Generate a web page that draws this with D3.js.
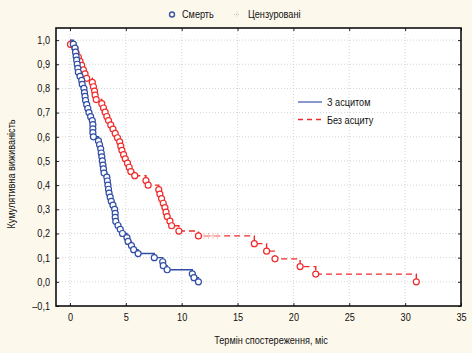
<!DOCTYPE html>
<html>
<head>
<meta charset="utf-8">
<script src="https://cdn.jsdelivr.net/npm/d3@7"></script>
<style>
  body { margin: 0; background: #fdf8ec; }
  svg { display: block; font-family: "Liberation Sans Narrow", "Arial Narrow", "Liberation Sans", sans-serif; }
</style>
</head>
<body>
<svg id="chart" width="472" height="353"></svg>
<script>
// З асцитом: час (міс) і кумулятивна виживаність після кожної смерті
var blueTime = [0.3, 0.45, 0.5, 0.55, 0.6, 0.65, 0.7, 0.75, 0.9, 1.05,
                1.1, 1.25, 1.3, 1.35, 1.4, 1.5, 1.6, 1.7, 1.85, 2.0,
                2.05, 2.05, 2.05, 2.1, 2.55, 2.65, 2.75, 2.8, 2.85, 2.9,
                2.95, 3.0, 3.05, 3.3, 3.35, 3.4, 3.45, 3.5, 3.6, 3.7,
                3.85, 4.0, 4.05, 4.05, 4.1, 4.3, 4.5, 4.7, 5.1, 5.2,
                5.5, 5.7, 6.1, 7.55, 8.3, 8.35, 8.7, 10.95, 11.1, 11.5];
var blueSurv = [0.983, 0.967, 0.950, 0.933, 0.917, 0.900, 0.883, 0.867, 0.850, 0.833,
                0.817, 0.800, 0.783, 0.767, 0.750, 0.733, 0.717, 0.700, 0.683, 0.667,
                0.650, 0.633, 0.617, 0.600, 0.583, 0.567, 0.550, 0.533, 0.517, 0.500,
                0.483, 0.467, 0.450, 0.433, 0.417, 0.400, 0.383, 0.367, 0.350, 0.333,
                0.317, 0.300, 0.283, 0.267, 0.250, 0.233, 0.217, 0.200, 0.183, 0.167,
                0.150, 0.133, 0.117, 0.100, 0.083, 0.067, 0.050, 0.033, 0.017, 0.000];

// Без асциту
var redTime = [0.05, 0.45, 0.55, 0.75, 0.9, 1.05, 1.2, 1.35, 1.5, 2.0,
               2.1, 2.2, 2.25, 2.35, 2.85, 3.0, 3.15, 3.3, 3.45, 3.65,
               3.85, 4.05, 4.25, 4.45, 4.55, 4.65, 4.8, 4.95, 5.15, 5.3,
               5.45, 5.8, 6.8, 7.0, 7.95, 8.05, 8.2, 8.35, 8.5, 8.6,
               8.7, 8.95, 9.1, 9.75, 11.5, 16.5, 17.6, 18.35, 20.6, 22.0, 31.0];
var redSurv = [0.982, 0.965, 0.947, 0.930, 0.912, 0.895, 0.877, 0.860, 0.842, 0.825,
               0.807, 0.789, 0.772, 0.754, 0.737, 0.719, 0.702, 0.684, 0.667, 0.649,
               0.632, 0.614, 0.596, 0.579, 0.561, 0.544, 0.526, 0.509, 0.491, 0.474,
               0.456, 0.439, 0.419, 0.400, 0.381, 0.363, 0.344, 0.325, 0.307, 0.288,
               0.270, 0.251, 0.232, 0.210, 0.190, 0.158, 0.127, 0.095, 0.063, 0.032, 0.000];

// цензуровані спостереження
var redCensTime = [12.0, 12.4, 12.8, 13.2];
var redCensSurv = [0.190, 0.190, 0.190, 0.190];

var xTicks = [0, 5, 10, 15, 20, 25, 30, 35];
var yTicks = [-0.1, 0, 0.1, 0.2, 0.3, 0.4, 0.5, 0.6, 0.7, 0.8, 0.9, 1.0];

var seriesNames = ['З асцитом', 'Без асциту'];
var markerNames = ['Смерть', 'Цензуровані'];

(function() {
  var pL = 56, pR = 461, pT = 28, pB = 306;
  var blue = '#2f4da3', red = '#f02a2a';
  var fs = 10.5;

  var svg = d3.select('#chart');

  var x = d3.scaleLinear().domain([-1.25, 35]).range([pL, pR]);
  var y = d3.scaleLinear().domain([-0.1, 1.05]).range([pB, pT]);

  // поле графіка
  svg.append('rect')
    .attr('x', pL).attr('y', pT)
    .attr('width', pR - pL).attr('height', pB - pT)
    .attr('fill', '#ffffff');

  // сітка
  svg.append('g')
    .selectAll('line')
    .data(xTicks.slice(0, -1))
    .enter().append('line')
    .attr('x1', function(d) { return x(d); }).attr('x2', function(d) { return x(d); })
    .attr('y1', pT).attr('y2', pB)
    .attr('stroke', '#d4d4d4').attr('stroke-dasharray', '1,2');
  svg.append('g')
    .selectAll('line')
    .data(yTicks.slice(1))
    .enter().append('line')
    .attr('x1', pL).attr('x2', pR)
    .attr('y1', function(d) { return y(d); }).attr('y2', function(d) { return y(d); })
    .attr('stroke', '#d4d4d4').attr('stroke-dasharray', '1,2');

  var fmt = function(d) { return d3.format('.1f')(d).replace('.', ',').replace('−', '–'); };

  // осі, мітки всередину
  var xAxis = svg.append('g')
    .attr('transform', 'translate(0,' + pB + ')')
    .call(d3.axisBottom(x).tickValues(xTicks).tickSizeInner(-3).tickSizeOuter(0).tickPadding(8));
  var yAxis = svg.append('g')
    .attr('transform', 'translate(' + pL + ',0)')
    .call(d3.axisLeft(y).tickValues(yTicks).tickFormat(fmt).tickSizeInner(-3).tickSizeOuter(0).tickPadding(6));
  svg.append('g')
    .attr('transform', 'translate(0,' + pT + ')')
    .call(d3.axisTop(x).tickValues(xTicks).tickSizeInner(-3).tickSizeOuter(0).tickFormat(''));
  svg.append('g')
    .attr('transform', 'translate(' + pR + ',0)')
    .call(d3.axisRight(y).tickValues(yTicks).tickSizeInner(-3).tickSizeOuter(0).tickFormat(''));

  svg.selectAll('.domain').remove();
  svg.selectAll('.tick line').attr('stroke', '#222');
  [xAxis, yAxis].forEach(function(a) {
    a.selectAll('text').attr('font-size', fs).attr('fill', '#111')
      .style('font-family', 'inherit');
  });

  // рамка
  svg.append('rect')
    .attr('x', pL).attr('y', pT)
    .attr('width', pR - pL).attr('height', pB - pT)
    .attr('fill', 'none').attr('stroke', '#111').attr('stroke-width', 1.6);

  // криві Каплана-Мейєра
  function stepPoints(ts, ss) {
    var pts = [[0, 1]];
    ts.forEach(function(t, i) { pts.push([t, ss[i]]); });
    return pts;
  }
  var line = d3.line()
    .x(function(d) { return x(d[0]); })
    .y(function(d) { return y(d[1]); })
    .curve(d3.curveStepAfter);

  svg.append('path')
    .datum(stepPoints(redTime, redSurv))
    .attr('d', line)
    .attr('fill', 'none').attr('stroke', red).attr('stroke-width', 1.4)
    .attr('stroke-dasharray', '6,4');

  svg.append('path')
    .datum(stepPoints(blueTime, blueSurv))
    .attr('d', line)
    .attr('fill', 'none').attr('stroke', blue).attr('stroke-width', 1.4);

  // цензуровані
  svg.append('g')
    .selectAll('path')
    .data(redCensTime)
    .enter().append('path')
    .attr('d', function(d, i) {
      var cx = x(d), cy = y(redCensSurv[i]);
      return 'M' + (cx - 3) + ',' + cy + 'H' + (cx + 3) + 'M' + cx + ',' + (cy - 3) + 'V' + (cy + 3);
    })
    .attr('stroke', '#f8c0c0').attr('stroke-width', 1);

  // смерті
  svg.append('g')
    .selectAll('circle')
    .data(redTime)
    .enter().append('circle')
    .attr('cx', function(d) { return x(d); })
    .attr('cy', function(d, i) { return y(redSurv[i]); })
    .attr('r', 3)
    .attr('fill', '#fff').attr('stroke', red).attr('stroke-width', 1.2);

  svg.append('g')
    .selectAll('circle')
    .data(blueTime)
    .enter().append('circle')
    .attr('cx', function(d) { return x(d); })
    .attr('cy', function(d, i) { return y(blueSurv[i]); })
    .attr('r', 3)
    .attr('fill', '#fff').attr('stroke', blue).attr('stroke-width', 1.2);

  // легенда зверху
  svg.append('circle').attr('cx', 172).attr('cy', 14.5).attr('r', 2.5)
    .attr('fill', 'none').attr('stroke', '#3d55a5').attr('stroke-width', 1.4);
  svg.append('text').attr('x', 182).attr('y', 18).attr('font-size', fs).attr('fill', '#111')
    .text(markerNames[0]);
  svg.append('path').attr('d', 'M234,14.5H240M237,11.5V17.5')
    .attr('stroke', '#c8c8c8').attr('stroke-width', 1).attr('stroke-dasharray', '1,1');
  svg.append('text').attr('x', 248).attr('y', 18).attr('font-size', fs).attr('fill', '#111')
    .text(markerNames[1]);

  // легенда серій
  svg.append('line').attr('x1', 298).attr('x2', 322).attr('y1', 102).attr('y2', 102)
    .attr('stroke', '#6f7fbf').attr('stroke-width', 1.6);
  svg.append('text').attr('x', 327).attr('y', 106).attr('font-size', fs).attr('fill', '#111')
    .text(seriesNames[0]);
  svg.append('line').attr('x1', 298).attr('x2', 322).attr('y1', 119.5).attr('y2', 119.5)
    .attr('stroke', red).attr('stroke-width', 1.4).attr('stroke-dasharray', '5,4');
  svg.append('text').attr('x', 327).attr('y', 123.5).attr('font-size', fs).attr('fill', '#111')
    .text(seriesNames[1]);

  // підписи осей
  svg.append('text')
    .attr('x', 271).attr('y', 344)
    .attr('text-anchor', 'middle').attr('font-size', fs).attr('fill', '#111')
    .text('Термін спостереження, міс');
  svg.append('text')
    .attr('transform', 'translate(15,174) rotate(-90)')
    .attr('text-anchor', 'middle').attr('font-size', fs).attr('fill', '#111')
    .text('Кумулятивна виживаність');

  // вузький шрифт, як в оригіналі: стискаємо текст по ширині
  svg.selectAll('text').each(function() {
    var w = this.getComputedTextLength();
    if (w > 0) {
      d3.select(this).attr('textLength', w * 0.87).attr('lengthAdjust', 'spacingAndGlyphs');
    }
  });
})();
</script>
</body>
</html>
